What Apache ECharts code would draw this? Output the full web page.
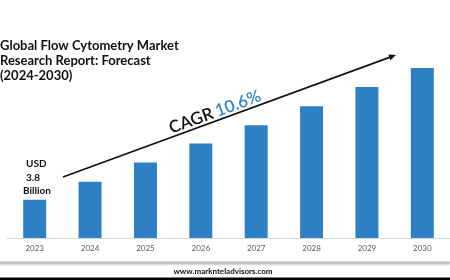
<!DOCTYPE html>
<html>
<head>
<meta charset="utf-8">
<script src="https://cdn.jsdelivr.net/npm/echarts@6/dist/echarts.min.js"></script>
<style>
html,body{margin:0;padding:0;background:#fff;}
#chart{width:450px;height:280px;}
</style>
</head>
<body>
<div id="chart"></div>
<script>
const years = ['2023','2024','2025','2026','2027','2028','2029','2030'];
const marketValues = [3.8, 5.6, 7.5, 9.4, 11.2, 13.1, 15.0, 16.9];
const titleLines = ['Global Flow Cytometry Market', 'Research Report: Forecast', '(2024-2030)'];
const cagrLabel = 'CAGR';
const cagrValue = '10.6%';
const startLabelLines = ['USD', '3.8', 'Billion'];
const sourceText = 'www.marknteladvisors.com';

const chart = echarts.init(document.getElementById('chart'));
const FONT = 'Lato, "Open Sans", sans-serif';
const arrowStart = [63, 177];
const arrowEnd = [396, 55];
const ang = Math.atan2(arrowStart[1] - arrowEnd[1], arrowEnd[0] - arrowStart[0]);

chart.setOption({
  animation: false,
  backgroundColor: '#ffffff',
  grid: { left: 7, right: -2, top: 36.7, bottom: 42, containLabel: false },
  xAxis: {
    type: 'category',
    data: years,
    axisLine: { show: true, lineStyle: { color: '#d9d9d9', width: 1 } },
    axisTick: { show: false },
    axisLabel: { color: '#595959', fontSize: 8, fontFamily: FONT, margin: 6 }
  },
  yAxis: {
    type: 'value', min: 0, max: 20,
    show: false, splitLine: { show: false }
  },
  series: [{
    type: 'bar',
    data: marketValues,
    barWidth: 23,
    itemStyle: { color: '#2e80c4' }
  }],
  graphic: [
    {
      type: 'text', left: 0, top: 38,
      style: {
        text: titleLines.join('\n'),
        font: 'bold 13px ' + FONT,
        fill: '#111111',
        lineHeight: 15
      }
    },
    {
      type: 'line',
      shape: { x1: arrowStart[0], y1: arrowStart[1], x2: arrowEnd[0] - 4 * Math.cos(ang), y2: arrowEnd[1] + 4 * Math.sin(ang) },
      style: { stroke: '#111111', lineWidth: 1.6 }
    },
    {
      type: 'polygon',
      x: arrowEnd[0], y: arrowEnd[1],
      rotation: ang,
      shape: { points: [[0, 0], [-7, -3], [-7, 3]] },
      style: { fill: '#111111' }
    },
    {
      type: 'text',
      x: 215, y: 112,
      rotation: ang,
      style: {
        text: '{a|' + cagrLabel + '} {b|' + cagrValue + '}',
        align: 'center', verticalAlign: 'middle',
        rich: {
          a: { font: '600 17px ' + FONT, fill: '#111111' },
          b: { font: '600 17px ' + FONT, fill: '#2e86c8' }
        }
      }
    },
    {
      type: 'text', x: 26, y: 164,
      style: { text: startLabelLines[0], font: 'bold 10px ' + FONT, fill: '#111111', verticalAlign: 'middle' }
    },
    {
      type: 'text', x: 26, y: 177.5,
      style: { text: startLabelLines[1], font: 'bold 10px ' + FONT, fill: '#111111', verticalAlign: 'middle' }
    },
    {
      type: 'text', x: 23, y: 190.5,
      style: { text: startLabelLines[2], font: 'bold 10px ' + FONT, fill: '#111111', verticalAlign: 'middle' }
    },
    {
      type: 'rect',
      shape: { x: 0, y: 261.5, width: 450, height: 2 },
      style: { fill: '#bfbfbf', shadowBlur: 2, shadowColor: 'rgba(0,0,0,0.3)', shadowOffsetY: 1 }
    },
    {
      type: 'text', x: 223, y: 271,
      style: { text: sourceText, font: 'bold 8px ' + FONT, fill: '#111111', align: 'center', verticalAlign: 'middle' }
    },
    {
      type: 'rect',
      shape: { x: 0, y: 277.5, width: 450, height: 3 },
      style: { fill: '#000000' }
    }
  ]
});
</script>
</body>
</html>
